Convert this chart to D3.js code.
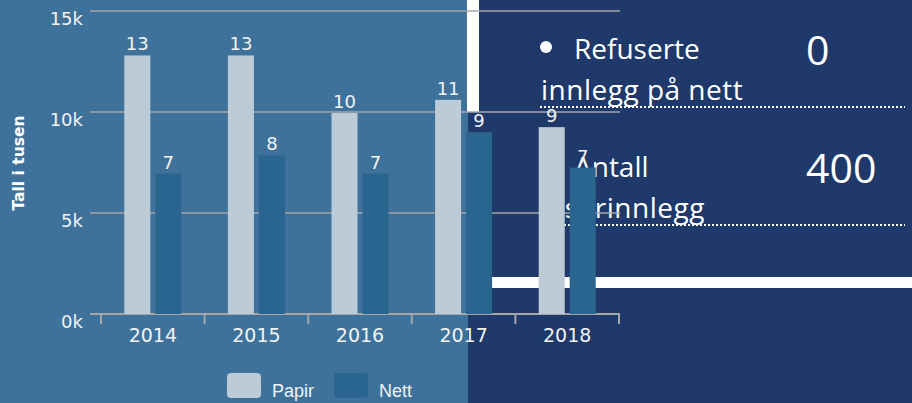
<!DOCTYPE html>
<html>
<head>
<meta charset="utf-8">
<script src="https://cdn.jsdelivr.net/npm/d3@7"></script>
<style>
  body { margin: 0; padding: 0; overflow: hidden; }
  svg { display: block; }
</style>
</head>
<body>
<script>
var aar = ["2014", "2015", "2016", "2017", "2018"];
var serier = ["Papir", "Nett"];
var papir = [12800, 12800, 9950, 10600, 9250];
var nett = [6950, 7850, 6950, 9000, 7250];
var yTicks = [0, 5000, 10000, 15000];
var panelTekst = [
    { linje1: "Refuserte", linje2: "innlegg på nett", tall: "0" },
    { linje1: "Antall", linje2: "leserinnlegg", tall: "400" }
];

var w = 912;
var h = 403;
var farger = { Papir: "#bccbd6", Nett: "#29658f" };

var svg = d3.select("body")
    .append("svg")
    .attr("width", w)
    .attr("height", h);

// bakgrunn
svg.append("rect").attr("x", 0).attr("y", 0).attr("width", 468).attr("height", h).attr("fill", "#3e729a");
svg.append("rect").attr("x", 468).attr("y", 0).attr("width", w - 468).attr("height", h).attr("fill", "#1e396a");
svg.append("rect").attr("x", 467).attr("y", 0).attr("width", 12).attr("height", 112).attr("fill", "#ffffff");
svg.append("rect").attr("x", 479).attr("y", 277).attr("width", w - 479).attr("height", 11).attr("fill", "#ffffff");

// tekst i høyre panel
var blokk = svg.selectAll("g.blokk")
    .data(panelTekst)
    .enter()
    .append("g")
    .attr("class", "blokk")
    .attr("transform", function (d, i) { return "translate(0," + (i * 118) + ")"; });

blokk.append("circle").attr("cx", 546).attr("cy", 47).attr("r", 6).attr("fill", "#ffffff");
blokk.append("text")
    .attr("x", 574).attr("y", 59)
    .attr("font-family", "'Open Sans'").attr("font-size", 28).attr("fill", "#ffffff")
    .text(function (d) { return d.linje1; });
blokk.append("text")
    .attr("x", 541).attr("y", 100)
    .attr("font-family", "'Open Sans'").attr("font-size", 28).attr("fill", "#ffffff")
    .attr("letter-spacing", 0.5)
    .text(function (d) { return d.linje2; });
blokk.append("text")
    .attr("x", 806).attr("y", 65)
    .attr("font-family", "'Open Sans'").attr("font-size", 41).attr("fill", "#ffffff")
    .text(function (d) { return d.tall; });
blokk.append("line")
    .attr("x1", 540).attr("x2", 905).attr("y1", 107).attr("y2", 107)
    .attr("stroke", "#ffffff").attr("stroke-width", 2).attr("stroke-dasharray", "2,2");

// skalaer
var x0 = d3.scaleBand().domain(aar).range([101, 619]);
var x1 = d3.scaleBand().domain(serier).range([0, 57]).paddingInner(0.16);
var y = d3.scaleLinear().domain([0, 15000]).range([314, 11]);

// rutenett
svg.selectAll("line.grid")
    .data(yTicks)
    .enter()
    .append("line")
    .attr("class", "grid")
    .attr("x1", 90).attr("x2", 620)
    .attr("y1", function (d) { return y(d); })
    .attr("y2", function (d) { return y(d); })
    .attr("stroke", "#a6a6a6")
    .attr("stroke-width", function (d) { return d === 0 ? 2 : 1.5; });

svg.selectAll("text.ytick")
    .data(yTicks)
    .enter()
    .append("text")
    .attr("class", "ytick")
    .attr("x", 83)
    .attr("y", function (d) { return y(d) + 14; })
    .attr("text-anchor", "end")
    .attr("font-family", "'DejaVu Sans'").attr("font-size", 18).attr("fill", "#f2f2f2")
    .text(function (d) { return (d / 1000) + "k"; });

svg.append("text")
    .attr("transform", "translate(24,163) rotate(-90)")
    .attr("text-anchor", "middle")
    .attr("font-family", "'DejaVu Sans'").attr("font-weight", "bold").attr("font-size", 15.5)
    .attr("fill", "#ffffff")
    .text("Tall i tusen");

// x-akse
var xAxis = svg.append("g")
    .attr("transform", "translate(0,314)")
    .call(d3.axisBottom(x0).tickSize(0).tickPadding(15));
xAxis.select(".domain").remove();
xAxis.selectAll("text")
    .attr("font-family", "'DejaVu Sans'").attr("font-size", 19).attr("fill", "#f2f2f2");

svg.selectAll("line.xtick")
    .data(aar.concat(["slutt"]))
    .enter()
    .append("line")
    .attr("class", "xtick")
    .attr("x1", function (d, i) { return i < aar.length ? x0(d) : x0.range()[1]; })
    .attr("x2", function (d, i) { return i < aar.length ? x0(d) : x0.range()[1]; })
    .attr("y1", 314).attr("y2", 324)
    .attr("stroke", "#a6a6a6").attr("stroke-width", 2);

// stolper
var rader = aar.map(function (a, i) {
    return { aar: a, verdier: [{ key: "Papir", v: papir[i] }, { key: "Nett", v: nett[i] }] };
});

var grupper = svg.selectAll("g.gruppe")
    .data(rader)
    .enter()
    .append("g")
    .attr("class", "gruppe")
    .attr("transform", function (d) {
        return "translate(" + (x0(d.aar) + (x0.bandwidth() - 57) / 2) + ",0)";
    });

grupper.selectAll("rect")
    .data(function (d) { return d.verdier; })
    .enter()
    .append("rect")
    .attr("x", function (d) { return x1(d.key); })
    .attr("y", function (d) { return y(d.v); })
    .attr("width", x1.bandwidth())
    .attr("height", function (d) { return y(0) - y(d.v); })
    .attr("fill", function (d) { return farger[d.key]; });

grupper.selectAll("text")
    .data(function (d) { return d.verdier; })
    .enter()
    .append("text")
    .attr("x", function (d) { return x1(d.key) + x1.bandwidth() / 2; })
    .attr("y", function (d) { return y(d.v) - 5; })
    .attr("text-anchor", "middle")
    .attr("font-family", "'DejaVu Sans'").attr("font-size", 18).attr("fill", "#f2f2f2")
    .text(function (d) { return Math.round(d.v / 1000); });

// tegnforklaring
var legende = svg.selectAll("g.legende")
    .data(serier)
    .enter()
    .append("g")
    .attr("class", "legende")
    .attr("transform", function (d, i) { return "translate(" + (227 + i * 107) + ",373)"; });

legende.append("rect")
    .attr("width", 34).attr("height", 25).attr("rx", 4)
    .attr("fill", function (d) { return farger[d]; });
legende.append("text")
    .attr("x", 45).attr("y", 24)
    .attr("font-family", "'Liberation Sans'").attr("font-size", 18).attr("fill", "#f2f2f2")
    .text(function (d) { return d; });
</script>
</body>
</html>
